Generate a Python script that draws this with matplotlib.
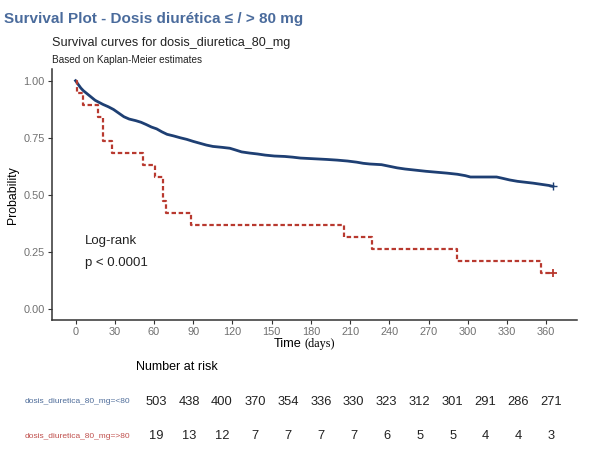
import numpy as np
import matplotlib
matplotlib.use("Agg")
import matplotlib.pyplot as plt

plt.rcParams['font.family'] = ['Liberation Sans', 'DejaVu Sans']

# Kaplan-Meier curve for dosis <= 80 mg
blue_days = [0, 2, 4, 6, 9, 12, 15, 18, 21, 25, 29, 33, 37, 41, 46, 50, 54, 58, 62,
             66, 70, 75, 80, 85, 90, 95, 100, 105, 112, 118, 122, 127, 133, 139, 145,
             152, 160, 166, 172, 182, 192, 200, 208, 215, 220, 225, 234, 240, 246, 252,
             260, 268, 276, 284, 292, 298, 302, 322, 326, 332, 338, 344, 350, 356, 362, 365]
blue_surv = [1.000, 0.984, 0.968, 0.956, 0.942, 0.928, 0.914, 0.905, 0.896, 0.886, 0.874,
             0.858, 0.842, 0.832, 0.825, 0.818, 0.808, 0.797, 0.789, 0.776, 0.765, 0.758,
             0.750, 0.743, 0.734, 0.726, 0.718, 0.712, 0.708, 0.704, 0.697, 0.688, 0.683,
             0.679, 0.674, 0.670, 0.668, 0.665, 0.661, 0.658, 0.655, 0.652, 0.648, 0.643,
             0.638, 0.635, 0.632, 0.625, 0.618, 0.613, 0.608, 0.603, 0.599, 0.595, 0.590,
             0.584, 0.578, 0.578, 0.573, 0.565, 0.559, 0.555, 0.551, 0.546, 0.541, 0.537]

# Kaplan-Meier curve for dosis > 80 mg
red_days = [0, 1, 6, 17, 21, 27.5, 51.5, 60.5, 66.5, 69, 88.5, 205, 227, 292, 356, 365]
red_surv = [1.000, 0.947, 0.895, 0.842, 0.737, 0.684, 0.632, 0.579, 0.474, 0.421, 0.368,
            0.316, 0.263, 0.211, 0.158, 0.158]

# risk table
risk_times = [0, 30, 60, 90, 120, 150, 180, 210, 240, 270, 300, 330, 360]
risk_le80 = [503, 438, 400, 370, 354, 336, 330, 323, 312, 301, 291, 286, 271]
risk_gt80 = [19, 13, 12, 7, 7, 7, 7, 6, 5, 5, 4, 4, 3]
group_labels = ["dosis_diuretica_80_mg=<80", "dosis_diuretica_80_mg=>80"]

blue = "#1e3f73"
red = "#b8392f"
tick_grey = "#707070"

W, H = 600, 468
fig = plt.figure(figsize=(6, 4.68), dpi=100)

def px(l, t, r, b):
    return [l / W, 1 - b / H, (r - l) / W, (b - t) / H]

ax = fig.add_axes(px(51.7, 69.3, 576.7, 320.3))
# the <=80 group has many tiny steps, which look like a line at this size
ax.plot(blue_days, blue_surv, color=blue, lw=2.0, solid_joinstyle="round")
ax.step(red_days, red_surv, where="post", color=red, lw=1.6, ls=(0, (2.0, 1.2)))
ax.plot([blue_days[-1]], [blue_surv[-1]], marker="+", color=blue, ms=6, mew=1.0)
ax.plot([red_days[-1]], [red_surv[-1]], marker="+", color=red, ms=6, mew=1.3)

ax.set_xlim(-18.25, 383.25)
ax.set_ylim(-0.05, 1.05)
ax.set_xticks(risk_times)
ax.set_yticks([0, 0.25, 0.5, 0.75, 1.0])
ax.set_yticklabels(["0.00", "0.25", "0.50", "0.75", "1.00"])
for s in ["top", "right"]:
    ax.spines[s].set_visible(False)
for s in ["left", "bottom"]:
    ax.spines[s].set_color("#333333")
    ax.spines[s].set_linewidth(1.1)
ax.tick_params(length=3, width=0.8, color="#333333", labelcolor=tick_grey,
               labelsize=7.9, pad=2)

ax.text(7.4, 0.297, "Log-rank", fontsize=9.5, va="center", ha="left", color="#222222")
ax.text(7.4, 0.20, "p < 0.0001", fontsize=9.5, va="center", ha="left", color="#222222")

ax.set_ylabel("Probability", fontsize=8.8, labelpad=3)
fig.text(302 / W, 1 - 344 / H, "Time", fontsize=9.2, ha="right", va="center")
fig.text(304.5 / W, 1 - 344 / H, "(days)", fontsize=8.8, ha="left", va="center",
         family="Liberation Serif")

# titles
fig.text(4 / W, 1 - 19 / H, "Survival Plot - Dosis diurética ≤ / > 80 mg", fontsize=11.0,
         fontweight="bold", color="#4a6b9c", va="center", ha="left")
fig.text(52 / W, 1 - 43 / H, "Survival curves for dosis_diuretica_80_mg", fontsize=9.1,
         va="center", ha="left", color="#222222")
fig.text(52 / W, 1 - 60 / H, "Based on Kaplan-Meier estimates", fontsize=7.2,
         va="center", ha="left", color="#222222")

# number at risk table
rax = fig.add_axes(px(136, 384.5, 577, 453.5))
rax.set_xlim(-18.25, 383.25)
rax.set_ylim(-0.5, 1.5)
rax.axis("off")
for t, a, b in zip(risk_times, risk_le80, risk_gt80):
    rax.text(t, 1, str(a), ha="center", va="center", fontsize=9.3, color="#222222")
    rax.text(t, 0, str(b), ha="center", va="center", fontsize=9.3, color="#222222")
fig.text(136 / W, 1 - 366.7 / H, "Number at risk", fontsize=9, ha="left", va="center")
fig.text(130.7 / W, 1 - 401.7 / H, group_labels[0], fontsize=6.0, ha="right", va="center",
         color="#4f6d9a")
fig.text(130.7 / W, 1 - 436 / H, group_labels[1], fontsize=6.0, ha="right", va="center",
         color="#c0504d")

fig.savefig("out.png", dpi=100)
